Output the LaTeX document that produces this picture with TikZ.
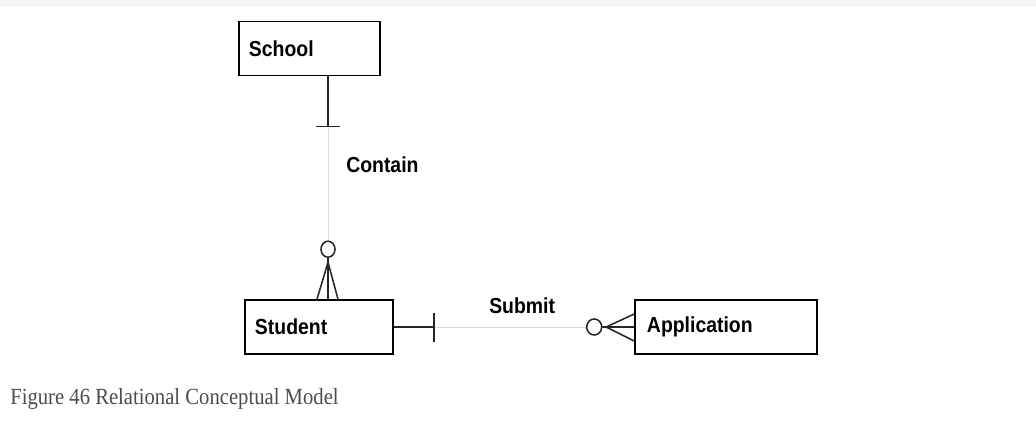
\documentclass[tikz,border=0pt]{standalone}
\usepackage{graphicx}
\usepackage{fontspec}
\setmainfont{Liberation Serif}
\newfontfamily\erfont{Liberation Sans}
\usetikzlibrary{calc}
\newcommand{\tallt}[1]{\scalebox{1}[1.12]{#1}}

\begin{document}
\begin{tikzpicture}[
x=0.025cm, y=-0.025cm,
entity/.style={rectangle, draw=black, line width=1.1pt, align=left, inner xsep=0.25cm, minimum height=1.35cm, font=\erfont\bfseries\fontsize{13.8}{16}\selectfont},
lbl/.style={inner sep=0pt, font=\erfont\bfseries\fontsize{13.8}{16}\selectfont},
rel/.style={draw=black!15, line width=0.7pt},
card/.style={draw=black!85, line width=1.1pt}
]
\useasboundingbox (0,0) rectangle (1036,431);
\fill[black!4] (0,0) rectangle (1036,7);

\node[entity, text width=3.025cm] (school) at (309.5,48.5) {\tallt{School}};
\node[entity, text width=3.2cm] (student) at (319,327) {\tallt{Student}};
\node[entity, inner xsep=0.3cm, text width=3.95cm] (application) at (726,327) {\tallt{Application}};

\node[lbl, anchor=west] (contain) at (346,165) {\tallt{Contain}};
\node[lbl, anchor=west] (submit) at (489,306) {\tallt{Submit}};

\coordinate (lx) at (328,0);

% relationship lines
\draw[rel] (school.south -| lx) -- (student.north -| lx);
\draw[rel] (student.east) -- (application.west);

% School: one
\draw[card] (school.south -| lx) -- ++(0,50) coordinate (t1);
\draw[card] ($(t1)+(-12,0)$) -- ($(t1)+(12,0)$);

% Student: zero or many
\coordinate (sn) at (student.north -| lx);
\draw[card] (sn) -- ++(0,-42);
\draw[card] ($(sn)+(-11,0)$) -- ($(sn)+(0,-37)$) -- ($(sn)+(10,0)$);
\draw[card, fill=white] ($(sn)+(0,-50)$) ellipse [x radius=7, y radius=8];

% Student: one
\draw[card] (student.east) -- ++(40,0) coordinate (t2);
\draw[card] ($(t2)+(0,-14)$) -- ($(t2)+(0,15)$);

% Application: zero or many
\draw[card] (application.west) -- ++(-33,0);
\draw[card] ($(application.west)+(0,-13)$) -- ($(application.west)+(-28,0)$) -- ($(application.west)+(0,14)$);
\draw[card, fill=white] ($(application.west)+(-40,0)$) ellipse [x radius=7.5, y radius=8];

\node[anchor=west, inner sep=0pt, text=black!70, font=\fontsize{14.7}{17}\selectfont] (caption) at (10,399) {\tallt{Figure 46 Relational Conceptual Model}};
\end{tikzpicture}
\end{document}
